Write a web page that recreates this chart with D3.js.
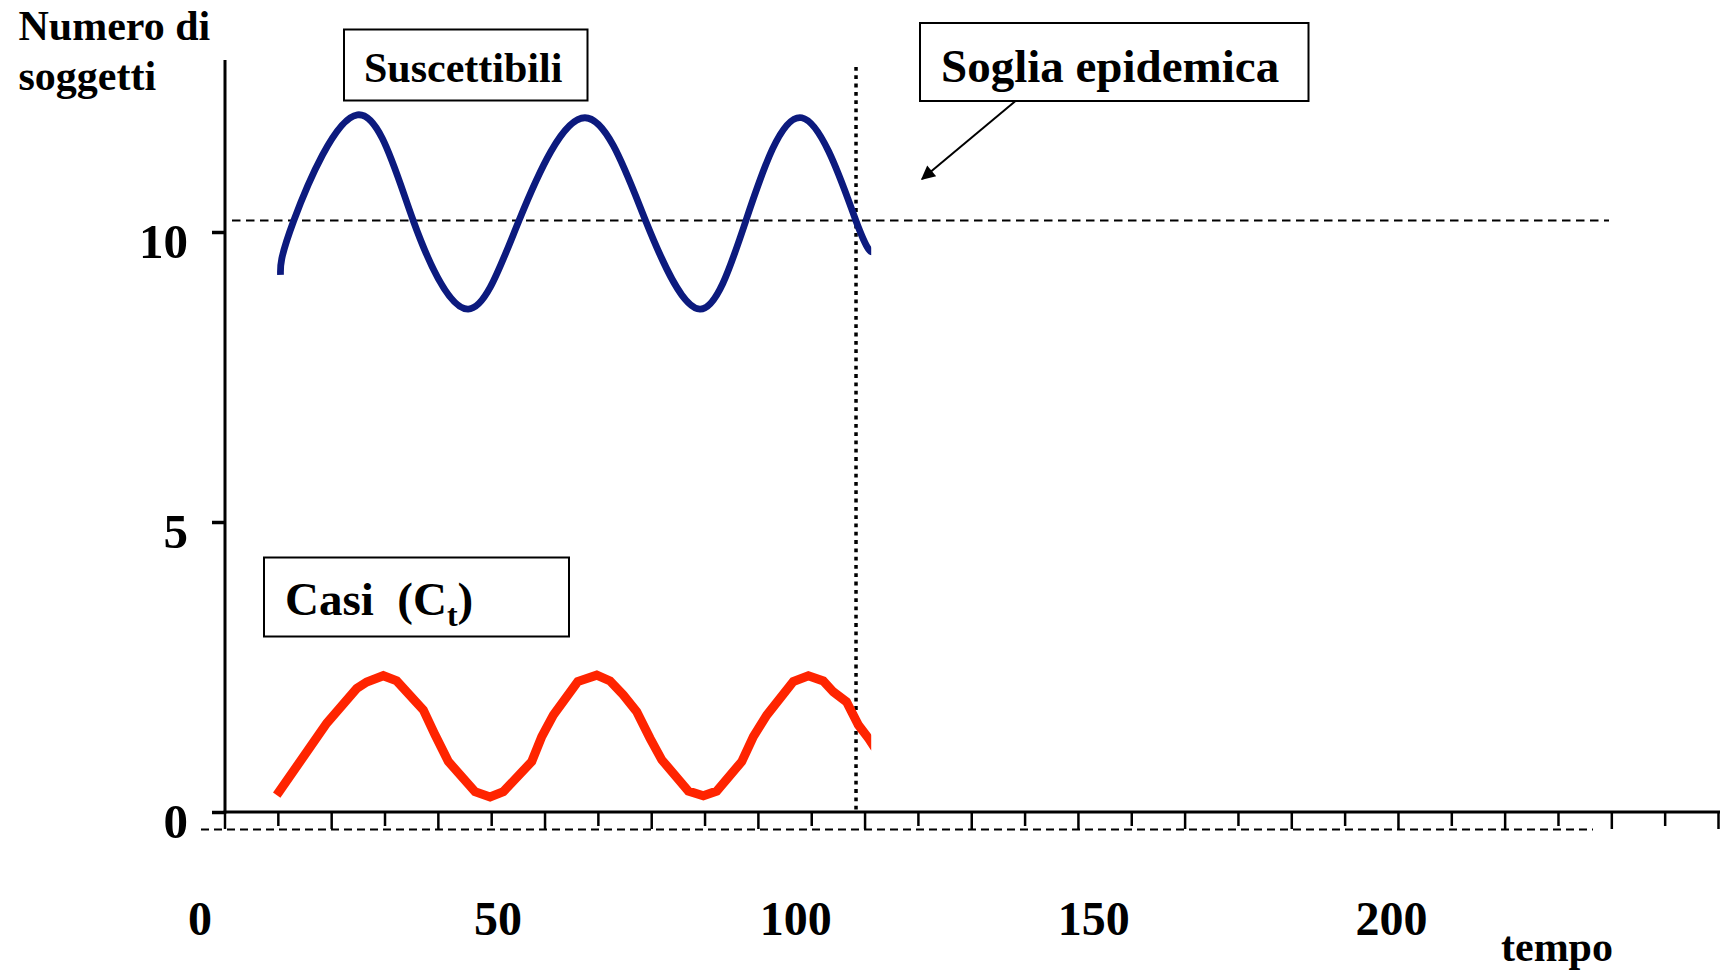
<!DOCTYPE html>
<html>
<head>
<meta charset="utf-8">
<script src="https://cdn.jsdelivr.net/npm/d3@7/dist/d3.min.js"></script>
<style>
  html, body { margin: 0; padding: 0; background: #ffffff; }
  svg { display: block; }
  text { font-family: "Liberation Serif", "Times New Roman", serif; font-weight: bold; fill: #000; }
</style>
</head>
<body>
<svg id="chart" width="1720" height="972"></svg>
<script>
// ---------------- data ----------------
const tempoTicks = [0, 50, 100, 150, 200];
const yTicks = [0, 5, 10];
const axisSteps = d3.range(0, 29);          // category tick marks of the time axis
const soglia = 10.2;                        // epidemic threshold
const tSoglia = 110.2;                      // time where S crosses threshold (vertical dotted)
const tEnd = 112.75;                        // series are cut here
const baseDash = -0.3;                      // dashed baseline under the axis

// Suscettibili [tempo, numero]
const suscettibili = [
  [13.6, 9.26], [15.8, 10.19], [26.5, 12.02],
  [35.9, 10.19], [45.1, 8.67], [53.6, 10.19], [64.7, 11.97],
  [74.9, 10.19], [84.0, 8.67], [91.7, 10.19],
  [101.1, 11.97], [110.2, 10.19], [113.2, 9.66]
];
// Casi (C_t) [tempo, numero]
const casi = [
  [12.96, 0.29], [21.35, 1.53], [26.39, 2.13], [28.07, 2.24], [30.85, 2.35],
  [33.10, 2.26], [37.57, 1.76], [39.53, 1.33], [41.77, 0.87], [46.25, 0.35],
  [48.77, 0.26], [51.0, 0.35], [55.77, 0.87], [57.45, 1.30], [59.39, 1.67],
  [63.5, 2.25], [66.68, 2.36], [68.91, 2.26], [71.14, 2.02], [73.39, 1.73],
  [75.63, 1.27], [77.59, 0.90], [82.06, 0.36], [84.57, 0.28], [86.82, 0.36],
  [91.02, 0.87], [92.97, 1.30], [95.22, 1.67], [99.68, 2.25], [102.2, 2.35],
  [104.7, 2.26], [106.4, 2.07], [108.6, 1.90], [110.6, 1.50], [112.3, 1.27],
  [113.4, 1.10]
];

// ---------------- layout ----------------
const svg = d3.select("#chart");
const axisX = 225, axisY = 812, axisTop = 60, axisRight = 1720;

const x = d3.scaleLinear().domain([0, 200]).range([199.5, 1391]);
const y = d3.scaleLinear().domain([0, 10]).range([axisY, 232]);
const xCat = d3.scaleLinear().domain([0, 28]).range([axisX, axisRight - 1.5]);

const blue = "#0c1a7e", red = "#ff2400";
const serif = "'Liberation Serif', 'Times New Roman', serif";

const defs = svg.append("defs");
defs.append("clipPath").attr("id", "cut")
  .append("rect").attr("x", 0).attr("y", 0)
  .attr("width", x(tEnd)).attr("height", 972);

defs.append("marker")
  .attr("id", "arrow").attr("viewBox", "0 0 10 10")
  .attr("refX", 9).attr("refY", 5)
  .attr("markerWidth", 8).attr("markerHeight", 7)
  .attr("markerUnits", "strokeWidth")
  .attr("orient", "auto")
  .append("path").attr("d", "M0,0 L10,5 L0,10 z").attr("fill", "#000");

// dashed baseline under the x axis
svg.append("line")
  .attr("x1", 201).attr("x2", 1593)
  .attr("y1", y(baseDash)).attr("y2", y(baseDash))
  .attr("stroke", "#000").attr("stroke-width", 2)
  .attr("stroke-dasharray", "8,5");

// threshold dashed line
svg.append("line")
  .attr("x1", 232).attr("x2", 1609)
  .attr("y1", y(soglia)).attr("y2", y(soglia))
  .attr("stroke", "#000").attr("stroke-width", 2)
  .attr("stroke-dasharray", "8.5,5.5");

// x axis (category ticks)
svg.append("line")
  .attr("x1", axisX - 1.5).attr("x2", axisRight)
  .attr("y1", axisY).attr("y2", axisY)
  .attr("stroke", "#000").attr("stroke-width", 3);
svg.append("g").selectAll("line").data(axisSteps).join("line")
  .attr("x1", d => xCat(d)).attr("x2", d => xCat(d))
  .attr("y1", axisY).attr("y2", d => axisY + (d % 2 === 0 ? 17 : 14))
  .attr("stroke", "#000").attr("stroke-width", 2.5);

// y axis
svg.append("line")
  .attr("x1", axisX).attr("x2", axisX)
  .attr("y1", axisTop).attr("y2", axisY + 1.5)
  .attr("stroke", "#000").attr("stroke-width", 3);
const yAxis = d3.axisLeft(y).tickValues(yTicks).tickSize(13).tickFormat(d3.format("d"));
const gy = svg.append("g").attr("transform", `translate(${axisX},0)`).call(yAxis);
gy.select(".domain").remove();
gy.selectAll(".tick line").attr("stroke", "#000").attr("stroke-width", 3.5);
gy.selectAll(".tick text")
  .attr("x", -37).attr("dy", null).attr("y", 25)
  .attr("text-anchor", "end")
  .style("font-family", serif)
  .style("font-weight", "bold").style("font-size", "49px").attr("fill", "#000");

// x tick labels (time)
const xAxis = d3.axisBottom(x).tickValues(tempoTicks).tickSize(0).tickFormat(d3.format("d"));
const gx = svg.append("g").attr("transform", `translate(0,${axisY})`).call(xAxis);
gx.select(".domain").remove();
gx.selectAll(".tick text")
  .attr("y", 123).attr("dy", null)
  .style("font-family", serif)
  .style("font-weight", "bold").style("font-size", "48px").attr("fill", "#000");

// vertical dotted line at threshold crossing
svg.append("line")
  .attr("x1", x(tSoglia)).attr("x2", x(tSoglia))
  .attr("y1", 67).attr("y2", axisY)
  .attr("stroke", "#000").attr("stroke-width", 3.5)
  .attr("stroke-dasharray", "3.8,4.5");

// series
const lineS = d3.line().x(d => x(d[0])).y(d => y(d[1])).curve(d3.curveNatural);
const lineC = d3.line().x(d => x(d[0])).y(d => y(d[1]));
const gs = svg.append("g").attr("clip-path", "url(#cut)");
gs.append("path").datum(suscettibili).attr("d", lineS)
  .attr("fill", "none").attr("stroke", blue).attr("stroke-width", 6.8);
gs.append("path").datum(casi).attr("d", lineC)
  .attr("fill", "none").attr("stroke", red).attr("stroke-width", 9)
  .attr("stroke-linejoin", "miter");

// axis titles
svg.append("text").attr("x", 18.5).attr("y", 40).style("font-size", "42px").text("Numero di");
svg.append("text").attr("x", 18.5).attr("y", 90).style("font-size", "42px").text("soggetti");
svg.append("text").attr("x", 1501).attr("y", 961).style("font-size", "42px").text("tempo");

// label boxes
function box(x0, y0, w, h) {
  svg.append("rect").attr("x", x0).attr("y", y0).attr("width", w).attr("height", h)
    .attr("fill", "#fff").attr("stroke", "#000").attr("stroke-width", 2);
}
box(344, 29.5, 243.5, 71);
svg.append("text").attr("x", 364).attr("y", 82).style("font-size", "42px").text("Suscettibili");

box(920, 23, 388.5, 78);
svg.append("text").attr("x", 941).attr("y", 82).style("font-size", "47px").text("Soglia epidemica");

box(264, 557.5, 305, 79);
const tc = svg.append("text").attr("x", 285).attr("y", 615).style("font-size", "47px").style("white-space", "pre");
tc.append("tspan").text("Casi  (C");
tc.append("tspan").attr("dy", 11).style("font-size", "32px").text("t");
tc.append("tspan").attr("dy", -11).text(")");

// arrow
svg.append("line")
  .attr("x1", 1015.5).attr("y1", 101).attr("x2", 922).attr("y2", 179)
  .attr("stroke", "#000").attr("stroke-width", 2)
  .attr("marker-end", "url(#arrow)");
</script>
</body>
</html>
